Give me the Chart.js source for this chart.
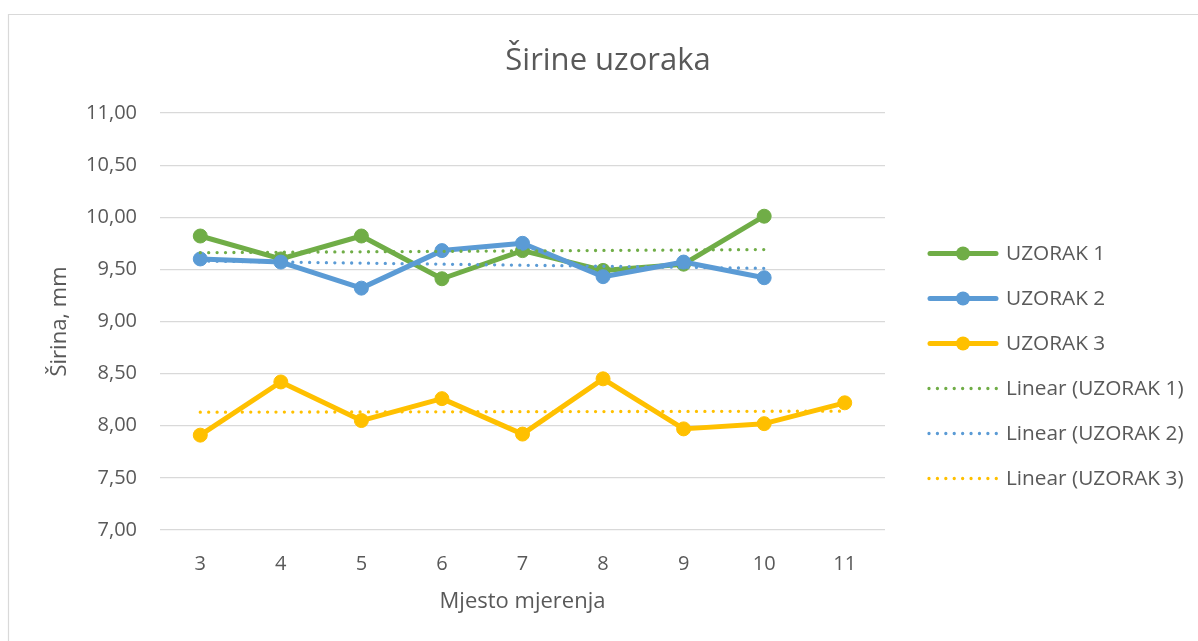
<!DOCTYPE html>
<html>
<head>
<meta charset="utf-8">
<script src="https://cdn.jsdelivr.net/npm/chart.js@4/dist/chart.umd.min.js"></script>
<style>
  html, body { margin: 0; padding: 0; background: #ffffff; }
  #wrap { position: relative; width: 1198px; height: 641px; }
</style>
</head>
<body>
<div id="wrap"><canvas id="c" width="1198" height="641"></canvas></div>
<script>
// ---- data ----
const categories = ['3', '4', '5', '6', '7', '8', '9', '10', '11'];
const uzorak1 = [9.82, 9.60, 9.82, 9.41, 9.68, 9.49, 9.55, 10.01, null];
const uzorak2 = [9.60, 9.57, 9.32, 9.68, 9.75, 9.43, 9.57, 9.42, null];
const uzorak3 = [7.91, 8.42, 8.05, 8.26, 7.92, 8.45, 7.97, 8.02, 8.22];
// trendline end points
const linear1 = [9.66, null, null, null, null, null, null, 9.69, null];
const linear2 = [9.58, null, null, null, null, null, null, 9.51, null];
const linear3 = [8.13, null, null, null, null, null, null, null, 8.14];
const seriesNames = ['UZORAK 1', 'UZORAK 2', 'UZORAK 3', 'Linear (UZORAK 1)', 'Linear (UZORAK 2)', 'Linear (UZORAK 3)'];
const chartTitle = 'Širine uzoraka';
const xTitle = 'Mjesto mjerenja';
const yTitle = 'Širina, mm';

const GREEN = '#70AD47', BLUE = '#5B9BD5', GOLD = '#FFC000';
const TXT = '#595959';
const FONT = "'Open Sans', 'DejaVu Sans', sans-serif";

function seriesDs(label, data, color, order) {
  return {
    label, data, order,
    borderColor: color, backgroundColor: color,
    borderWidth: 5, borderCapStyle: 'round', borderJoinStyle: 'round',
    pointRadius: 7, pointHoverRadius: 7,
    pointBackgroundColor: color, pointBorderColor: color, pointBorderWidth: 1,
    tension: 0, spanGaps: false
  };
}
function trendDs(label, data, color, order) {
  return {
    label, data, order,
    borderColor: color, backgroundColor: color,
    borderWidth: 3.3, borderCapStyle: 'round', borderDash: [0.01, 8.4],
    pointRadius: 0, pointHoverRadius: 0,
    tension: 0, spanGaps: true, isTrend: true
  };
}

const datasets = [
  seriesDs(seriesNames[0], uzorak1, GREEN, 5),
  seriesDs(seriesNames[1], uzorak2, BLUE, 4),
  seriesDs(seriesNames[2], uzorak3, GOLD, 3),
  trendDs(seriesNames[3], linear1, GREEN, 2),
  trendDs(seriesNames[4], linear2, BLUE, 1),
  trendDs(seriesNames[5], linear3, GOLD, 0)
];

const framePlugin = {
  id: 'frame',
  beforeDraw(chart) {
    const ctx = chart.ctx;
    ctx.save();
    ctx.strokeStyle = '#d9d9d9';
    ctx.lineWidth = 1.2;
    ctx.beginPath();
    ctx.moveTo(8.5, 641);
    ctx.lineTo(8.5, 14.5);
    ctx.lineTo(1198, 14.5);
    ctx.stroke();
    ctx.restore();
  },
  afterDraw(chart) {
    const ctx = chart.ctx;
    ctx.save();
    ctx.fillStyle = TXT;
    ctx.font = "31px " + FONT;
    ctx.textAlign = 'center';
    ctx.textBaseline = 'alphabetic';
    ctx.fillText(chartTitle, 608, 70);
    ctx.restore();
  }
};

const legendPlugin = {
  id: 'customLegend',
  afterDraw(chart) {
    const ctx = chart.ctx;
    const x0 = 928, x1 = 998, tx = 1006;
    const y0 = 253.5, step = 45;
    ctx.save();
    chart.data.datasets.forEach((ds, i) => {
      const y = y0 + i * step;
      ctx.strokeStyle = ds.borderColor;
      ctx.fillStyle = ds.borderColor;
      ctx.lineCap = 'round';
      if (ds.isTrend) {
        ctx.lineWidth = 3.3;
        ctx.setLineDash([0.01, 8.4]);
        ctx.beginPath();
        ctx.moveTo(x0 + 1, y);
        ctx.lineTo(x1, y);
        ctx.stroke();
        ctx.setLineDash([]);
      } else {
        ctx.lineWidth = 5;
        ctx.beginPath();
        ctx.moveTo(x0 + 2, y);
        ctx.lineTo(x1 - 2, y);
        ctx.stroke();
        ctx.beginPath();
        ctx.arc((x0 + x1) / 2, y, 7, 0, Math.PI * 2);
        ctx.fill();
      }
      ctx.fillStyle = TXT;
      ctx.font = "20.8px " + FONT;
      ctx.textAlign = 'left';
      ctx.textBaseline = 'middle';
      ctx.fillText(ds.label, tx, y + 1);
    });
    ctx.restore();
  }
};

new Chart(document.getElementById('c'), {
  type: 'line',
  data: { labels: categories, datasets },
  plugins: [framePlugin, legendPlugin],
  options: {
    responsive: false,
    animation: false,
    events: [],
    layout: { padding: { left: 0, right: 313, top: 113, bottom: 0 } },
    plugins: {
      legend: { display: false },
      tooltip: { enabled: false },
      title: { display: false }
    },
    scales: {
      x: {
        type: 'category',
        offset: true,
        grid: { display: false, drawTicks: false },
        border: { display: false },
        ticks: { color: TXT, font: { family: FONT, size: 20 }, padding: 22, maxRotation: 0, autoSkip: false },
        title: { display: true, text: xTitle, color: TXT, font: { family: FONT, size: 22, lineHeight: 1.2 }, padding: { top: 0, bottom: 26 } },
        afterFit(scale) { scale.height = 111; }
      },
      y: {
        min: 7, max: 11,
        grid: { color: '#d9d9d9', lineWidth: 1.2, drawTicks: false },
        border: { display: false },
        ticks: {
          stepSize: 0.5,
          color: TXT,
          font: { family: FONT, size: 20 },
          padding: 23,
          callback: (v) => Number(v).toFixed(2).replace('.', ',')
        },
        title: { display: true, text: yTitle, color: TXT, font: { family: FONT, size: 22, lineHeight: 1.2 }, padding: { top: 47, bottom: 0 } },
        afterFit(scale) { scale.width = 160; }
      }
    }
  }
});
</script>
</body>
</html>
